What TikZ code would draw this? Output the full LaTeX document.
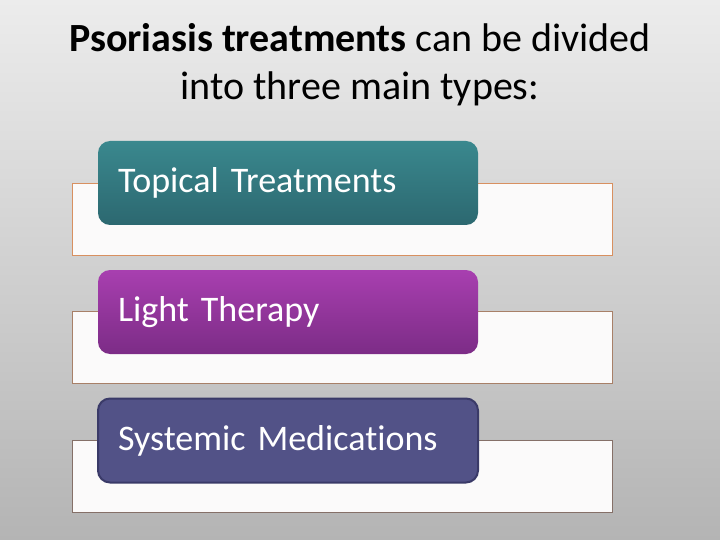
\documentclass[tikz,border=0pt]{standalone}
\usepackage{fontspec}
\setmainfont[Ligatures=NoCommon]{Carlito}
\definecolor{bgtop}{HTML}{ECECEC}
\definecolor{bgbot}{HTML}{B4B4B4}
\definecolor{tealtop}{HTML}{3A888E}
\definecolor{tealbot}{HTML}{2C6870}
\definecolor{purtop}{HTML}{A83FB0}
\definecolor{purbot}{HTML}{7C2C86}
\definecolor{navy}{HTML}{525287}
\definecolor{navyedge}{HTML}{3A3A68}
\definecolor{edgeA}{HTML}{D89060}
\definecolor{edgeB}{HTML}{A88068}
\definecolor{edgeC}{HTML}{857068}
\definecolor{panel}{HTML}{FBFAFA}
\tikzset{
  panelbox/.style={draw, line width=0.8pt, fill=panel, rectangle, minimum width=540pt, minimum height=72pt, inner sep=0pt},
  catbox/.style={rectangle, rounded corners=12pt, minimum width=380pt, minimum height=84pt, text width=340pt, inner xsep=20pt, align=left, text=white, font=\fontsize{36}{40}\selectfont},
  titletext/.style={align=center, font=\fontsize{40}{48}\selectfont, text=black}
}
\begin{document}
\begin{tikzpicture}[x=1pt,y=-1pt]
\useasboundingbox (0,0) rectangle (720,540);
\shade[top color=bgtop, bottom color=bgbot] (0,0) rectangle (720,540);
\node[titletext] (title) at (360,65) {\textbf{Psoriasis treatments} can be divided\\into three main types:};
\node[panelbox, draw=edgeA] (p1) at (342,219) {};
\node[panelbox, draw=edgeB] (p2) at (342,347.5) {};
\node[panelbox, draw=edgeC] (p3) at (342,476) {};
\node[catbox, top color=tealtop, bottom color=tealbot] (c1) at (288,183) {\raisebox{-3pt}{Topical Treatments}};
\node[catbox, top color=purtop, bottom color=purbot] (c2) at (288,312) {\raisebox{-3pt}{Light Therapy}};
\node[catbox, fill=navy, draw=navyedge, line width=2pt] (c3) at (288,440.5) {\raisebox{-3pt}{Systemic Medications}};
\end{tikzpicture}
\end{document}
